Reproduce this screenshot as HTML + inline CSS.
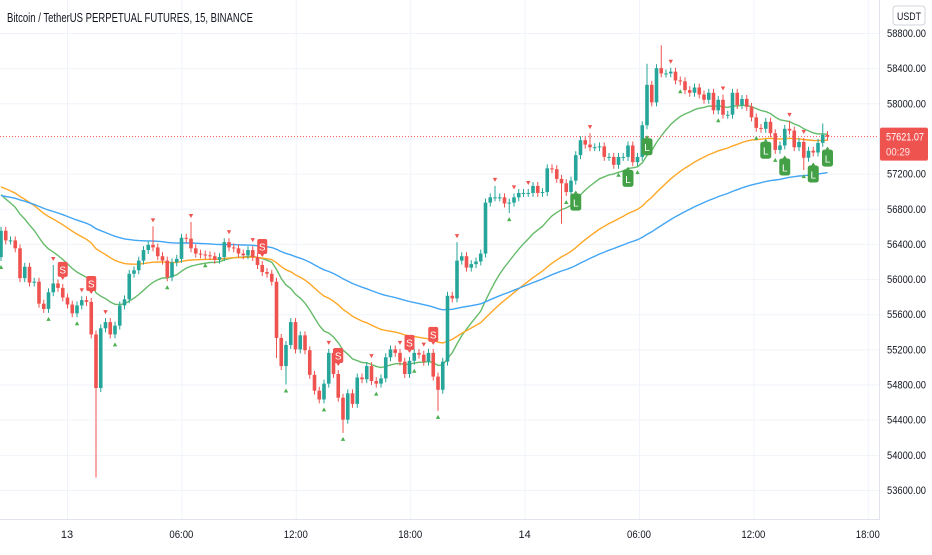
<!DOCTYPE html>
<html><head><meta charset="utf-8">
<style>
html,body{margin:0;padding:0;background:#fff;}
body{width:932px;height:550px;overflow:hidden;font-family:"Liberation Sans",sans-serif;}
svg text{font-family:"Liberation Sans",sans-serif;}
</style></head>
<body>
<svg id="chart" width="932" height="550" viewBox="0 0 932 550" xmlns="http://www.w3.org/2000/svg">
<g id="grid"></g>
<g id="plot"></g>
<rect x="880" y="0" width="52" height="550" fill="#fff"/>
<line x1="879.5" y1="0" x2="879.5" y2="519" stroke="#e0e3eb"/>
<line x1="0" y1="519.5" x2="880" y2="519.5" stroke="#e0e3eb"/>
<g id="yaxis"></g>
<g id="xaxis"></g>
<text x="7" y="22" font-size="12.5" fill="#131722" textLength="246" lengthAdjust="spacingAndGlyphs">Bitcoin / TetherUS PERPETUAL FUTURES, 15, BINANCE</text>
<rect x="893" y="6" width="32" height="19" rx="3" fill="#fff" stroke="#d1d4dc"/>
<text x="909" y="20" font-size="11" text-anchor="middle" fill="#131722" textLength="24" lengthAdjust="spacingAndGlyphs">USDT</text>
</svg>
<script>
const closes=[56550,56440,56440,56350,56010,56140,55960,55970,55720,55660,55850,55950,55900,55790,55710,55610,55700,55760,55740,55370,
54760,55440,55510,55370,55470,55700,55770,56060,56100,56210,56330,56390,56360,56260,56210,56020,56190,56230,56470,56460,
56350,56290,56280,56270,56260,56220,56250,56420,56360,56350,56290,56270,56330,56250,56160,56080,56060,55970,55330,55010,
55250,55510,55200,55360,55190,54910,54730,54630,54810,55160,54920,54650,54400,54700,54580,54880,54860,55010,54840,54810,
54870,55110,55200,55160,55060,54920,55070,55160,55140,55060,55160,54890,54740,55060,55810,55780,56210,56260,56130,56170,
56200,56290,56870,56930,56930,56930,56860,56870,56930,56980,56980,56980,57060,56980,56990,57260,57250,57140,57090,56990,
57120,57410,57580,57530,57500,57500,57510,57390,57390,57300,57390,57390,57520,57330,57390,57750,58210,58010,58400,58340,
58340,58360,58260,58250,58150,58120,58180,58100,58040,58120,57920,58040,57870,57870,58120,57980,58050,57960,57840,57720,
57710,57790,57660,57470,57520,57710,57690,57500,57560,57380,57460,57440,57550,57640,57621];
const firstOpen=56250;
const lowOverrideIdx=[20,72,92,107,118,150,169,58,19,60];
const lowOverrideVal=[53740,54250,54500,56750,56630,57900,57240,55100,55330,54800];
const highOverrideIdx=[139,136,173,167,104,96,11,32,40,124,152,166];
const highOverrideVal=[58660,58450,57770,57720,57060,56420,56160,56600,56650,57660,58100,57800];
const upMarks=[0,10,16,24,35,43,60,68,72,79,87,92,107,119,130,134,143,151,159,163,169];
const downMarks=[11,17,22,32,40,48,53,69,78,84,89,96,104,108,111,124,141,152,166,169];
const sellIdx=[13,19,55,71,86,91];
const longIdx=[121,132,136,161,165,171,174];
const emaPeriods=[20,50,100];
const emaSeeds=[56960,57050,56950];
const emaColors=['#66bb6a','#ffa726','#42a5f5'];
const priceTicks=[58800,58400,58000,57600,57200,56800,56400,56000,55600,55200,54800,54400,54000,53600];
const timeLabels=['13','06:00','12:00','18:00','14','06:00','12:00','18:00'];
const lastPrice=57621.07;

const NS='http://www.w3.org/2000/svg';
const y=p=>33+(58800-p)*0.08788;
const x=i=>i*4.75+1;
const tx=k=>67+k*114.4;
function mk(tag,attrs,parent){const e=document.createElementNS(NS,tag);for(const k in attrs)e.setAttribute(k,attrs[k]);parent.appendChild(e);return e;}
const grid=document.getElementById('grid'),plot=document.getElementById('plot'),ya=document.getElementById('yaxis'),xa=document.getElementById('xaxis');

priceTicks.forEach(p=>{
 const l=mk('line',{x1:0,x2:880,y1:y(p)+0.5,y2:y(p)+0.5,stroke:'#f0f3fa'},grid);
 
 
 if(Math.abs(p-lastPrice)<150)return;
 const t=mk('text',{x:887,y:y(p)+4,'font-size':11,fill:'#131722',textLength:39,lengthAdjust:'spacingAndGlyphs'},ya);
 t.textContent=p.toFixed(2);
 
 
});
timeLabels.forEach((s,k)=>{
 const l=mk('line',{x1:tx(k)+0.5,x2:tx(k)+0.5,y1:0,y2:519,stroke:'#f0f3fa'},grid);
 
 
 const t=mk('text',{x:tx(k),y:538,'font-size':11,fill:'#131722','text-anchor':'middle'},xa);
 if(s.length>2){t.setAttribute('textLength',24);t.setAttribute('lengthAdjust','spacingAndGlyphs');}
 t.textContent=s;
 
 
});

const highs=[],lows=[];
closes.forEach((c,i)=>{
 const o=i?closes[i-1]:firstOpen;
 let h=Math.max(o,c)+45,l=Math.min(o,c)-45;
 const hi=highOverrideIdx.indexOf(i);if(hi>=0)h=Math.max(h,highOverrideVal[hi]);
 const li=lowOverrideIdx.indexOf(i);if(li>=0)l=Math.min(l,lowOverrideVal[li]);
 highs.push(h);lows.push(l);
});

emaPeriods.forEach((n,k)=>{
 let e=emaSeeds[k];const a=2/(n+1);let d='';
 closes.forEach((c,i)=>{e=i?e+a*(c-e):e;d+=(i?'L':'M')+x(i).toFixed(1)+' '+y(e).toFixed(1);});
 const p=mk('path',{d:d,fill:'none',stroke:emaColors[k],'stroke-width':1.4},plot);
 
 
});

const lp=mk('line',{x1:0,x2:880,y1:y(lastPrice),y2:y(lastPrice),stroke:'#ef5350','stroke-dasharray':'1 2'},plot);



closes.forEach((c,i)=>{
 const o=i?closes[i-1]:firstOpen;const up=c>=o;const col=up?'#26a69a':'#ef5350';
 const g=mk('g',{},plot);
 
 
 mk('line',{x1:x(i),x2:x(i),y1:y(highs[i]),y2:y(lows[i]),stroke:col,'stroke-width':1},g);
 const top=y(Math.max(o,c)),bot=y(Math.min(o,c));
 mk('rect',{x:x(i)-1.8,y:top,width:3.6,height:Math.max(1,bot-top),fill:col},g);
});

upMarks.forEach(i=>{
 const yy=y(lows[i])+4;
 const t=mk('path',{d:`M${x(i)-2.2} ${yy+4}L${x(i)+2.2} ${yy+4}L${x(i)} ${yy}Z`,fill:'#4caf50'},plot);
 
 
});
downMarks.forEach(i=>{
 const yy=y(highs[i])-4;
 const t=mk('path',{d:`M${x(i)-2.2} ${yy-4}L${x(i)+2.2} ${yy-4}L${x(i)} ${yy}Z`,fill:'#ef5350'},plot);
 
 
});
sellIdx.forEach(i=>{
 const yy=y(highs[i])-22;
 const g=mk('g',{},plot);
 
 
 mk('rect',{x:x(i)-5,y:yy,width:10,height:15,rx:2,fill:'#f05350'},g);
 mk('path',{d:`M${x(i)-2} ${yy+15}L${x(i)+2} ${yy+15}L${x(i)} ${yy+18}Z`,fill:'#f05350'},g);
 const t=mk('text',{x:x(i),y:yy+11.5,'font-size':10,fill:'#fff','text-anchor':'middle'},g);t.textContent='S';
});
longIdx.forEach(i=>{
 const yy=y(lows[i])+6;
 const g=mk('g',{},plot);
 
 
 mk('path',{d:`M${x(i)-2} ${yy+3}L${x(i)+2} ${yy+3}L${x(i)} ${yy}Z`,fill:'#43a047'},g);
 mk('rect',{x:x(i)-5.5,y:yy+3,width:11,height:17,rx:2.5,fill:'#43a047'},g);
 const t=mk('text',{x:x(i),y:yy+16,'font-size':10,fill:'#fff','text-anchor':'middle'},g);t.textContent='L';
});

const ly=y(lastPrice);
const tg=mk('g',{},document.getElementById('chart'));


mk('rect',{x:880,y:ly-9,width:48,height:33,rx:2,fill:'#ef5350'},tg);
const t1=mk('text',{x:886,y:ly+4,'font-size':11,fill:'#fff',textLength:38,lengthAdjust:'spacingAndGlyphs'},tg);t1.textContent=lastPrice.toFixed(2);
const t2=mk('text',{x:886,y:ly+19,'font-size':11,fill:'#fff','fill-opacity':0.85,textLength:24,lengthAdjust:'spacingAndGlyphs'},tg);t2.textContent='00:29';
</script>
</body></html>
